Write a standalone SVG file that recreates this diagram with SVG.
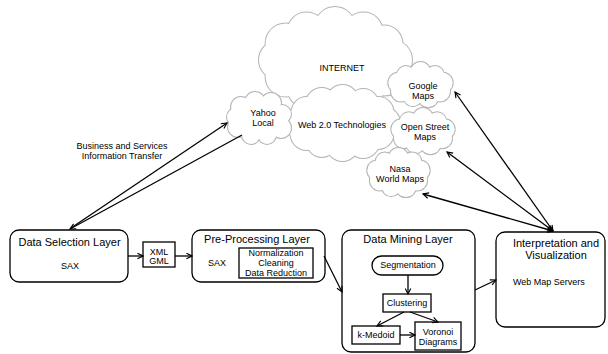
<svg xmlns="http://www.w3.org/2000/svg" xmlns:xlink="http://www.w3.org/1999/xlink" width="608" height="354" viewBox="0 0 608 354">
  <style>
    text { font-family: "Liberation Sans", Arial, sans-serif; fill: #000; text-anchor: middle; }
    .title { font-size: 11px; }
    .small { font-size: 9px; }
    .box { fill: #fff; stroke: #000; stroke-width: 1.3; }
    .cloud-line { fill: #fff; stroke: #b4b4b4; stroke-width: 2; }
    .cloud-body { fill: #fff; stroke: none; }
    .conn { fill: none; stroke: #000; stroke-width: 1.3; }
  </style>
  <defs>
    <marker id="ah" viewBox="0 0 10 10" refX="9" refY="5" markerWidth="7" markerHeight="7" markerUnits="userSpaceOnUse" orient="auto-start-reverse">
      <path d="M1,1 L9,5 L1,9" fill="none" stroke="#000" stroke-width="1.6"/>
    </marker>
    <!-- cloud outlines built from overlapping bumps -->
    <g id="shape-internet">
      <ellipse cx="335" cy="60" rx="58" ry="35"/>
      <circle cx="335" cy="27" r="20"/><circle cx="363.5" cy="31.4" r="19"/>
      <circle cx="384.4" cy="43.5" r="18"/><circle cx="392" cy="60" r="20"/>
      <circle cx="384.4" cy="76.5" r="19"/><circle cx="363.5" cy="88.6" r="20"/>
      <circle cx="335" cy="93" r="20"/><circle cx="306.5" cy="88.6" r="19"/>
      <circle cx="285.6" cy="76.5" r="20"/><circle cx="278" cy="60" r="19"/>
      <circle cx="285.6" cy="43.5" r="20"/><circle cx="306.5" cy="31.4" r="19"/>
    </g>
    <g id="shape-web20">
      <ellipse cx="342.5" cy="123" rx="44" ry="25"/>
      <circle cx="342.5" cy="101" r="16"/><circle cx="363.3" cy="104" r="15"/>
      <circle cx="378.4" cy="112" r="15"/><circle cx="384" cy="123" r="16"/>
      <circle cx="378.4" cy="134" r="15"/><circle cx="363.3" cy="142" r="16"/>
      <circle cx="342.5" cy="145" r="16"/><circle cx="321.8" cy="142" r="15"/>
      <circle cx="306.6" cy="134" r="16"/><circle cx="301" cy="123" r="16"/>
      <circle cx="306.6" cy="112" r="15"/><circle cx="321.8" cy="104" r="16"/>
    </g>
    <g id="shape-yahoo">
      <ellipse cx="259" cy="118" rx="24" ry="17"/>
      <circle cx="241" cy="107" r="10"/><circle cx="255" cy="102" r="10"/>
      <circle cx="271" cy="103" r="10"/><circle cx="282" cy="114" r="9"/>
      <circle cx="281" cy="128" r="10"/><circle cx="267" cy="135" r="9"/>
      <circle cx="251" cy="135" r="9"/><circle cx="238" cy="127" r="10"/>
      <circle cx="236" cy="117" r="9"/>
    </g>
    <g id="shape-google">
      <ellipse cx="420.5" cy="85" rx="24" ry="15"/>
      <circle cx="420.5" cy="72" r="10"/><circle cx="435" cy="75" r="9"/>
      <circle cx="442.7" cy="82.7" r="10"/><circle cx="440" cy="91.5" r="10"/>
      <circle cx="428.2" cy="97.2" r="10"/><circle cx="412.8" cy="97.2" r="9"/>
      <circle cx="401" cy="91.5" r="10"/><circle cx="398.3" cy="82.7" r="10"/>
      <circle cx="406" cy="75" r="9"/>
    </g>
    <g id="shape-osm">
      <ellipse cx="423" cy="131.5" rx="24" ry="15"/>
      <circle cx="423" cy="118" r="10"/><circle cx="437.1" cy="121.2" r="9"/>
      <circle cx="444.7" cy="129.2" r="10"/><circle cx="442.1" cy="138.3" r="10"/>
      <circle cx="430.5" cy="144.2" r="10"/><circle cx="415.5" cy="144.2" r="9"/>
      <circle cx="403.9" cy="138.3" r="10"/><circle cx="401.3" cy="129.2" r="10"/>
      <circle cx="408.9" cy="121.2" r="9"/>
    </g>
    <g id="shape-nasa">
      <ellipse cx="398.5" cy="173" rx="23" ry="17"/>
      <circle cx="398.5" cy="158" r="10"/><circle cx="412.3" cy="161.5" r="9"/>
      <circle cx="419.7" cy="170.4" r="10"/><circle cx="417.1" cy="180.5" r="10"/>
      <circle cx="405.9" cy="187.1" r="10"/><circle cx="391.1" cy="187.1" r="9"/>
      <circle cx="379.9" cy="180.5" r="10"/><circle cx="377.3" cy="170.4" r="10"/>
      <circle cx="384.7" cy="161.5" r="9"/>
    </g>
  </defs>

  <rect width="608" height="354" fill="#fff"/>

  <!-- clouds -->
  <g id="internet">
    <use href="#shape-internet" class="cloud-line"/>
    <use href="#shape-internet" class="cloud-body"/>
    <text class="small" x="342" y="71">INTERNET</text>
  </g>
  <g id="web20">
    <use href="#shape-web20" class="cloud-line"/>
    <use href="#shape-web20" class="cloud-body"/>
    <text class="small" x="342" y="128">Web 2.0 Technologies</text>
  </g>
  <g id="yahoo-local">
    <use href="#shape-yahoo" class="cloud-line"/>
    <use href="#shape-yahoo" class="cloud-body"/>
    <text class="small" x="263" y="116">Yahoo</text>
    <text class="small" x="263" y="126">Local</text>
  </g>
  <g id="google-maps">
    <use href="#shape-google" class="cloud-line"/>
    <use href="#shape-google" class="cloud-body"/>
    <text class="small" x="423" y="89">Google</text>
    <text class="small" x="423" y="99">Maps</text>
  </g>
  <g id="open-street-maps">
    <use href="#shape-osm" class="cloud-line"/>
    <use href="#shape-osm" class="cloud-body"/>
    <text class="small" x="425" y="130">Open Street</text>
    <text class="small" x="425" y="140">Maps</text>
  </g>
  <g id="nasa-world-maps">
    <use href="#shape-nasa" class="cloud-line"/>
    <use href="#shape-nasa" class="cloud-body"/>
    <text class="small" x="400" y="172">Nasa</text>
    <text class="small" x="400" y="182">World Maps</text>
  </g>

  <!-- layers -->
  <g id="data-selection">
    <rect class="box" x="10" y="230" width="118" height="52" rx="9"/>
    <text class="title" x="69.5" y="246">Data Selection Layer</text>
    <text class="small" x="70" y="269">SAX</text>
  </g>
  <g id="xml-gml">
    <rect class="box" x="143" y="242" width="32" height="25"/>
    <text class="small" x="159" y="255">XML</text>
    <text class="small" x="159" y="264">GML</text>
  </g>
  <g id="pre-processing">
    <rect class="box" x="192" y="230" width="133" height="52" rx="9"/>
    <text class="title" x="257" y="243">Pre-Processing Layer</text>
    <text class="small" x="217" y="266">SAX</text>
    <rect class="box" x="239" y="248" width="74" height="30"/>
    <text class="small" x="276" y="256">Normalization</text>
    <text class="small" x="276" y="266">Cleaning</text>
    <text class="small" x="276" y="276">Data Reduction</text>
  </g>
  <g id="data-mining">
    <rect class="box" x="342" y="230" width="133" height="122" rx="9"/>
    <text class="title" x="408" y="243">Data Mining Layer</text>
  </g>
  <g id="segmentation">
    <rect class="box" x="372" y="256" width="71" height="19" rx="9.5"/>
    <text class="small" x="408" y="268">Segmentation</text>
  </g>
  <g id="clustering">
    <rect class="box" x="383" y="294" width="48" height="18"/>
    <text class="small" x="407" y="306">Clustering</text>
  </g>
  <g id="k-medoid">
    <rect class="box" x="352" y="326" width="48" height="18"/>
    <text class="small" x="376" y="338">k-Medoid</text>
  </g>
  <g id="voronoi">
    <rect class="box" x="415" y="322" width="46" height="28"/>
    <text class="small" x="438" y="335">Voronoi</text>
    <text class="small" x="438" y="345">Diagrams</text>
  </g>
  <g id="interpretation">
    <rect class="box" x="496" y="232" width="109" height="95" rx="9"/>
    <text class="title" x="556" y="247">Interpretation and</text>
    <text class="title" x="556" y="259">Visualization</text>
    <text class="small" x="513" y="285" style="text-anchor:start">Web Map Servers</text>
  </g>

  <!-- connectors -->
  <g id="connectors" class="conn">
    <line x1="128" y1="256" x2="143" y2="256" marker-end="url(#ah)"/>
    <line x1="175" y1="256" x2="192" y2="256" marker-end="url(#ah)"/>
    <line x1="324" y1="256" x2="342" y2="292" marker-end="url(#ah)"/>
    <line x1="408" y1="275" x2="408" y2="294" marker-end="url(#ah)"/>
    <line x1="404" y1="312" x2="377" y2="326" marker-end="url(#ah)"/>
    <line x1="410" y1="312" x2="438" y2="322" marker-end="url(#ah)"/>
    <line x1="400" y1="335" x2="415" y2="335" marker-end="url(#ah)"/>
    <line x1="475" y1="290" x2="496" y2="280" marker-end="url(#ah)"/>
    <line x1="71" y1="228" x2="227" y2="123" marker-end="url(#ah)"/>
    <line x1="242" y1="135" x2="70" y2="229" marker-end="url(#ah)"/>
    <line x1="553" y1="231" x2="455" y2="92" marker-start="url(#ah)" marker-end="url(#ah)"/>
    <line x1="553" y1="231" x2="447" y2="152" marker-start="url(#ah)" marker-end="url(#ah)"/>
    <line x1="553" y1="231" x2="423" y2="194" marker-start="url(#ah)" marker-end="url(#ah)"/>
  </g>
  <g id="transfer-label">
    <text class="small" x="122" y="149">Business and Services</text>
    <text class="small" x="122" y="159">Information Transfer</text>
  </g>
</svg>
